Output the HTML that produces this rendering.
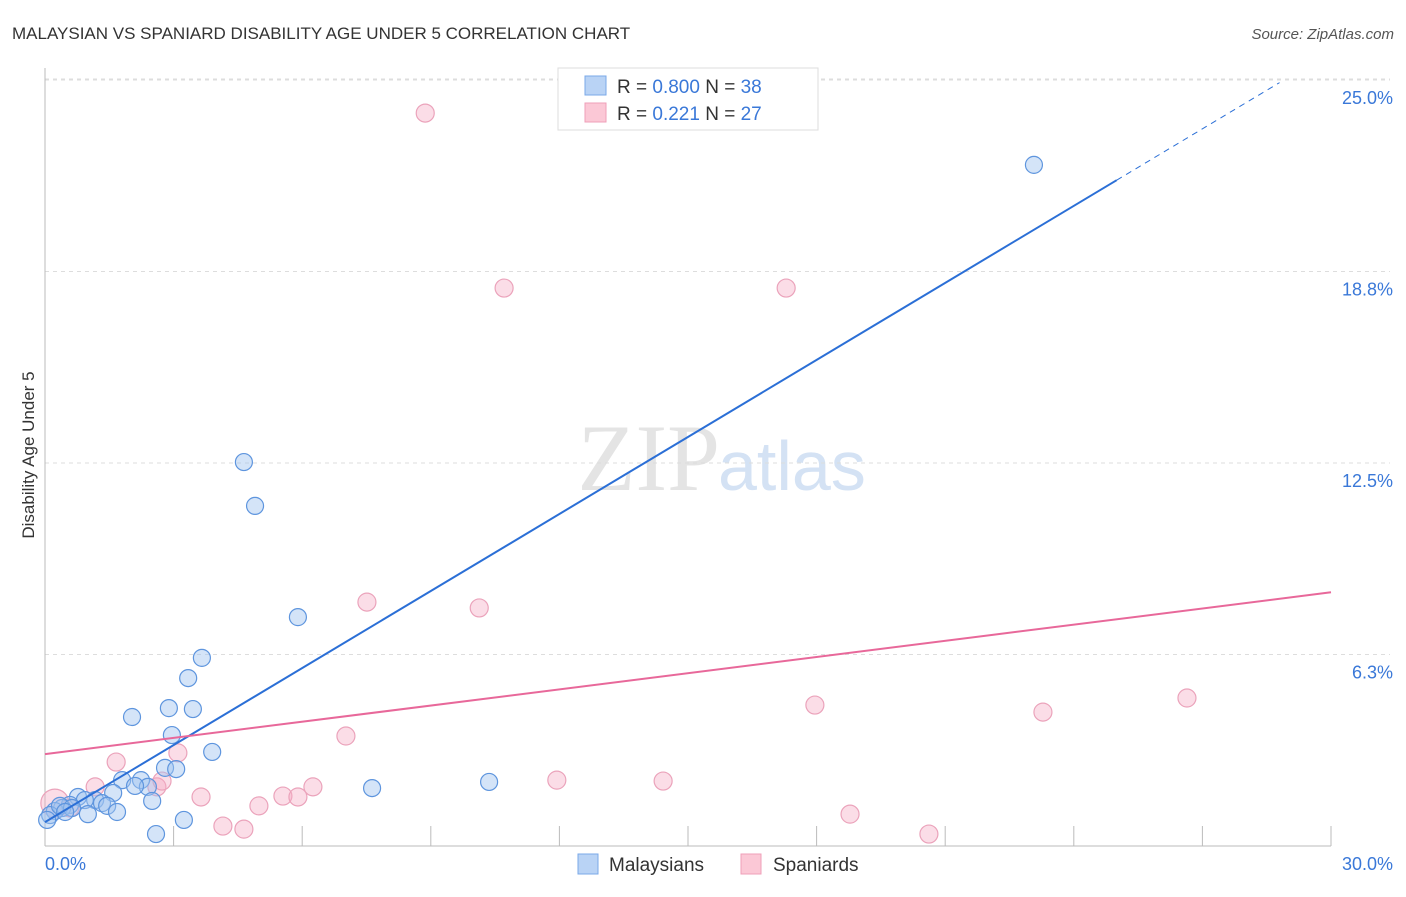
<!DOCTYPE html>
<html><head><meta charset="utf-8"><style>
body{margin:0;background:#fff;font-family:"Liberation Sans",sans-serif}
</style></head><body>
<svg width="1406" height="892" xmlns="http://www.w3.org/2000/svg">
<text x="12" y="39" font-size="17" fill="#333">MALAYSIAN VS SPANIARD DISABILITY AGE UNDER 5 CORRELATION CHART</text>
<text x="1394" y="39" font-size="15" fill="#555" font-style="italic" text-anchor="end">Source: ZipAtlas.com</text>
<text x="720" y="490" font-size="95" fill="#e4e4e4" text-anchor="end" font-family="Liberation Serif">ZIP</text>
<text x="718" y="490" font-size="70" fill="#d4e2f4">atlas</text>
<text transform="translate(34,455) rotate(-90)" font-size="17" fill="#333" text-anchor="middle">Disability Age Under 5</text>
<g id="grid"></g><g id="axes"></g><g id="marks"></g><g id="lines"></g>
<g>
<rect x="558" y="68" width="260" height="62" fill="#fff" stroke="#ddd"/>
<rect x="585" y="76" width="21" height="19" fill="#b9d3f5" stroke="#7aa8e8"/>
<text x="617" y="93" font-size="19" fill="#333">R = <tspan fill="#3a78d8">0.800</tspan>   N = <tspan fill="#3a78d8">38</tspan></text>
<rect x="585" y="103" width="21" height="19" fill="#fbc8d6" stroke="#ef9fb8"/>
<text x="617" y="120" font-size="19" fill="#333">R =  <tspan fill="#3a78d8"> 0.221</tspan>   N = <tspan fill="#3a78d8">27</tspan></text>
</g>
<g>
<rect x="578" y="854" width="20" height="20" fill="#b9d3f5" stroke="#7aa8e8"/>
<text x="609" y="871" font-size="19" fill="#333">Malaysians</text>
<rect x="741" y="854" width="20" height="20" fill="#fbc8d6" stroke="#ef9fb8"/>
<text x="773" y="871" font-size="19" fill="#333">Spaniards</text>
</g>
</svg>
<script>
const yTicks=[6.25,12.5,18.75,25];
const yTickLabels=["6.3%","12.5%","18.8%","25.0%"];
const xTickLabels=["0.0%","30.0%"];
const blueX=[23.07,4.64,4.90,5.90,3.66,3.34,2.89,3.45,2.03,2.96,3.90,2.80,3.06,1.80,2.24,2.40,2.10,1.59,2.50,1.17,0.77,0.93,1.33,1.45,0.58,0.40,0.23,0.12,0.05,1.00,1.68,2.59,3.24,7.63,10.36,0.35,0.63,0.47];
const blueY=[22.23,12.53,11.10,7.47,6.14,5.48,4.50,4.47,4.21,3.62,3.07,2.55,2.51,2.15,2.15,1.93,1.96,1.73,1.47,1.50,1.60,1.50,1.40,1.31,1.34,1.24,1.14,1.01,0.85,1.04,1.11,0.39,0.85,1.89,2.09,1.31,1.24,1.11];
const pinkX=[8.87,10.71,17.29,7.51,10.13,17.96,23.28,26.64,7.02,3.10,1.66,1.17,2.61,2.73,3.64,4.99,5.55,5.90,6.25,11.94,14.42,4.15,4.64,18.78,20.62,0.23,0.58];
const pinkY=[23.92,18.21,18.21,7.96,7.77,4.60,4.37,4.83,3.59,3.04,2.74,1.93,1.93,2.12,1.60,1.31,1.63,1.60,1.93,2.15,2.12,0.65,0.55,1.04,0.39,1.40,1.24];
const pinkR=[9,9,9,9,9,9,9,9,9,9,9,9,9,9,9,9,9,9,9,9,9,9,9,9,9,14,9];
const blueFit=[0.78,0.838];
const pinkFit=[3.0,0.176];
const NS="http://www.w3.org/2000/svg";
const sx=v=>45+v/30*1286;
const sy=v=>846-v/6.25*191.5;
function mk(t,a,p){const e=document.createElementNS(NS,t);for(const k in a)e.setAttribute(k,a[k]);document.getElementById(p).appendChild(e);return e;}
mk('line',{x1:45,y1:79,x2:1390,y2:79,stroke:'#ddd','stroke-dasharray':'4,4'},'grid');
yTicks.forEach((t,i)=>{
 const l=mk('line',{x1:45,y1:sy(t),x2:1390,y2:sy(t),stroke:'#ddd','stroke-dasharray':'4,4'},'grid');
 
 
 const tx=mk('text',{x:1393,y:sy(t)+24,'font-size':18,fill:'#3a78d8','text-anchor':'end'},'axes');
 tx.textContent=yTickLabels[i];
 
 
});
mk('line',{x1:45,y1:68,x2:45,y2:846,stroke:'#bbb'},'axes');
mk('line',{x1:45,y1:846,x2:1331,y2:846,stroke:'#bbb'},'axes');
for(let k=1;k<=10;k++){mk('line',{x1:45+k*128.6,y1:826,x2:45+k*128.6,y2:846,stroke:'#bbb'},'axes');}
const xl0=mk('text',{x:45,y:870,'font-size':18,fill:'#3a78d8'},'axes');xl0.textContent=xTickLabels[0];


const xl1=mk('text',{x:1393,y:870,'font-size':18,fill:'#3a78d8','text-anchor':'end'},'axes');xl1.textContent=xTickLabels[1];


pinkX.forEach((x,i)=>{
 const c=mk('circle',{cx:sx(x),cy:sy(pinkY[i]),r:pinkR[i],fill:'rgba(245,170,195,0.4)',stroke:'#eba3bb','stroke-width':1.2},'marks');
 
 
});
blueX.forEach((x,i)=>{
 const c=mk('circle',{cx:sx(x),cy:sy(blueY[i]),r:8.5,fill:'rgba(160,195,240,0.45)',stroke:'#5e95de','stroke-width':1.2},'marks');
 
 
});
const bl=mk('line',{x1:sx(0),y1:sy(blueFit[0]),x2:sx(25),y2:sy(blueFit[0]+25*blueFit[1]),stroke:'#2b6fd6','stroke-width':2},'lines');


const bd=mk('line',{x1:sx(25),y1:sy(blueFit[0]+25*blueFit[1]),x2:sx(28.8),y2:sy(blueFit[0]+28.8*blueFit[1]),stroke:'#2b6fd6','stroke-width':1,'stroke-dasharray':'6,5'},'lines');


const pl=mk('line',{x1:sx(0),y1:sy(pinkFit[0]),x2:sx(30),y2:sy(pinkFit[0]+30*pinkFit[1]),stroke:'#e8689a','stroke-width':2},'lines');


</script>
</body></html>
